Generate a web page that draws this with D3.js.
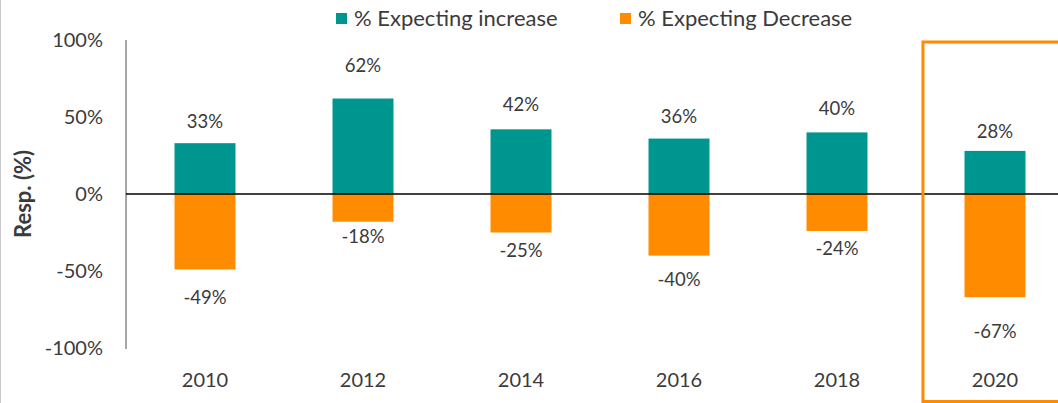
<!DOCTYPE html>
<html>
<head>
<meta charset="utf-8">
<script src="https://cdn.jsdelivr.net/npm/d3@7.9.0/dist/d3.min.js"></script>
<style>
  html, body { margin: 0; padding: 0; background: #fff; }
  svg { display: block; font-family: Lato, "Open Sans", sans-serif; }
</style>
</head>
<body>
<svg id="chart" width="1058" height="403"></svg>
<script>
const years = ['2010', '2012', '2014', '2016', '2018', '2020'];
const increase = [33, 62, 42, 36, 40, 28];
const decrease = [-49, -18, -25, -40, -24, -67];
const yTicks = [-100, -50, 0, 50, 100];
const seriesNames = ['% Expecting increase', '% Expecting Decrease'];
const highlightYear = '2020';

const W = 1058, H = 403;
const teal = '#009690';
const orange = '#ff8b00';
const textColor = '#3b3b3b';

const svg = d3.select('#chart');

const x = d3.scaleBand()
  .domain(years)
  .range([126, 1074])
  .paddingInner(0.614)
  .paddingOuter(0.307);

const y = d3.scaleLinear().domain([-100, 100]).range([348, 40]);

// faint frame edge on the left
svg.append('line')
  .attr('x1', 0.5).attr('x2', 0.5).attr('y1', 0).attr('y2', H)
  .attr('stroke', '#c8c8c8').attr('stroke-width', 1);

// y axis
const yAxis = svg.append('g')
  .attr('transform', 'translate(126,0)')
  .call(d3.axisLeft(y).tickValues(yTicks).tickSize(0).tickPadding(23)
    .tickFormat((d) => d + '%'));
yAxis.select('.domain').attr('stroke', '#a6a6a6').attr('stroke-width', 2)
  .attr('d', `M0,${y(100)}V${y(-100) + 1}`);
yAxis.selectAll('text')
  .attr('fill', textColor)
  .style('font-size', '20px')
  .style('font-family', 'Lato, sans-serif');

svg.append('text')
  .attr('transform', `translate(31,${y(0)}) rotate(-90)`)
  .attr('text-anchor', 'middle')
  .attr('fill', textColor)
  .style('font-size', '22px')
  .style('font-weight', 'bold')
  .text('Resp. (%)');

const rows = years.map((yr, i) => ({ year: yr, inc: increase[i], dec: decrease[i] }));

// bars
svg.selectAll('rect.inc')
  .data(rows)
  .join('rect')
  .attr('class', 'inc')
  .attr('x', (d) => x(d.year))
  .attr('width', x.bandwidth())
  .attr('y', (d) => y(d.inc))
  .attr('height', (d) => y(0) - y(d.inc))
  .attr('fill', teal);

svg.selectAll('rect.dec')
  .data(rows)
  .join('rect')
  .attr('class', 'dec')
  .attr('x', (d) => x(d.year))
  .attr('width', x.bandwidth())
  .attr('y', y(0))
  .attr('height', (d) => y(d.dec) - y(0))
  .attr('fill', orange);

// zero line
svg.append('line')
  .attr('x1', 126).attr('x2', W)
  .attr('y1', y(0)).attr('y2', y(0))
  .attr('stroke', '#000').attr('stroke-width', 1.5);

// value labels
function labelY(v) {
  const len = Math.abs(y(v) - y(0));
  return v >= 0 ? y(v) - 8 - 0.26 * len : y(v) + 8 + 0.26 * len;
}

const labels = svg.append('g')
  .attr('fill', textColor)
  .style('font-size', '18.5px')
  .attr('text-anchor', 'middle');

labels.selectAll('text.inc')
  .data(rows)
  .join('text')
  .attr('class', 'inc')
  .attr('x', (d) => x(d.year) + x.bandwidth() / 2)
  .attr('y', (d) => labelY(d.inc))
  .attr('dy', '0.35em')
  .text((d) => d.inc + '%');

labels.selectAll('text.dec')
  .data(rows)
  .join('text')
  .attr('class', 'dec')
  .attr('x', (d) => x(d.year) + x.bandwidth() / 2)
  .attr('y', (d) => labelY(d.dec))
  .attr('dy', '0.35em')
  .text((d) => d.dec + '%');

// year labels
svg.append('g')
  .attr('fill', textColor)
  .style('font-size', '20px')
  .attr('text-anchor', 'middle')
  .selectAll('text')
  .data(years)
  .join('text')
  .attr('x', (d) => x(d) + x.bandwidth() / 2)
  .attr('y', 380)
  .attr('dy', '0.35em')
  .text((d) => d);

// highlight box around the last year
const hx = x(highlightYear) + x.bandwidth() / 2 - x.step() * 0.456;
svg.append('rect')
  .attr('x', hx)
  .attr('y', y(100) + 2)
  .attr('width', W - hx + 10)
  .attr('height', H - 1.5 - (y(100) + 2))
  .attr('fill', 'none')
  .attr('stroke', orange)
  .attr('stroke-width', 3);

// legend
const legendX = [336, 620];
const legend = svg.append('g');
seriesNames.forEach((name, i) => {
  const g = legend.append('g').attr('transform', `translate(${legendX[i]},0)`);
  g.append('rect')
    .attr('x', 0).attr('y', 13).attr('width', 11).attr('height', 11)
    .attr('fill', i === 0 ? teal : orange);
  g.append('text')
    .attr('x', 18).attr('y', 18.5).attr('dy', '0.35em')
    .attr('fill', textColor)
    .style('font-size', '22px')
    .text(name);
});
</script>
</body>
</html>
